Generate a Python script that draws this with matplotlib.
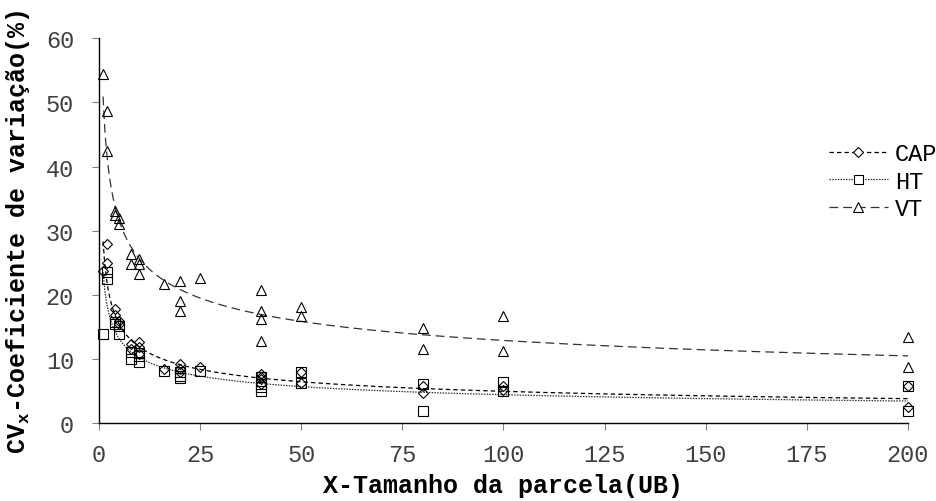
import numpy as np
import matplotlib.pyplot as plt

plt.rcParams['font.family'] = ['Liberation Mono', 'DejaVu Sans Mono']
plt.rcParams['mathtext.fontset'] = 'custom'
plt.rcParams['mathtext.rm'] = 'Liberation Mono'
plt.rcParams['mathtext.bf'] = 'Liberation Mono:bold'

# tamanho da parcela (unidades basicas) e CV(%) de cada forma de parcela
x_ub = [1, 2, 2, 4, 4, 5, 5, 8, 8, 10, 10, 10, 16, 20, 20, 20, 25,
        40, 40, 40, 40, 50, 50, 80, 80, 100, 100, 200, 200]
cv_cap = [23.7, 28.0, 24.9, 17.8, 16.8, 16.0, 15.5, 12.3, 11.5, 12.6, 11.8, 10.8,
          8.5, 9.2, 8.4, 8.0, 8.7, 7.6, 7.2, 6.9, 6.1, 7.9, 6.2, 5.8, 4.7,
          5.8, 5.1, 5.8, 2.5]
cv_ht = [13.9, 23.5, 22.4, 15.4, 15.8, 15.1, 13.9, 11.1, 10.0, 10.4, 9.5, 11.0,
         8.1, 7.9, 7.0, 7.4, 8.1, 7.2, 6.1, 5.0, 5.6, 7.9, 6.2, 6.1, 1.9,
         6.4, 5.0, 5.8, 1.9]
cv_vt = [54.4, 48.6, 42.4, 33.0, 32.5, 32.0, 31.0, 26.3, 24.8, 25.6, 24.8, 23.2,
         21.7, 22.1, 19.0, 17.5, 22.7, 20.7, 17.5, 16.2, 12.8, 18.1, 16.7, 14.8, 11.5,
         16.7, 11.2, 13.4, 8.7]

labels = ['CAP', 'HT', 'VT']
xticks = [0, 25, 50, 75, 100, 125, 150, 175, 200]
yticks = [0, 10, 20, 30, 40, 50, 60]

fig = plt.figure(figsize=(9.37, 5.02), dpi=100)
ax = fig.add_axes([0.1057, 0.155, 0.8633, 0.767])

styles = [
    dict(marker='D', ms=5.4, ls=(0, (3.5, 2.5)), color='black'),
    dict(marker='s', ms=7.2, ls=(0, (1.2, 1.0)), color='#333333'),
    dict(marker='^', ms=7.6, ls=(0, (7, 4)), color='#333333'),
]

x = np.array(x_ub, dtype=float)
xs = np.linspace(1, 200, 500)
for lab, cv, st in zip(labels, [cv_cap, cv_ht, cv_vt], styles):
    cv = np.array(cv)
    # ajuste potencial y = a * x^b (regressao em log-log)
    b, lna = np.polyfit(np.log(x), np.log(cv), 1)
    ax.plot(xs, np.exp(lna) * xs ** b, ls=st['ls'], color=st['color'], lw=0.9)
    ax.plot(x, cv, ls='none', marker=st['marker'], ms=st['ms'],
            mfc='none', mec='black', mew=0.8, clip_on=False)
    # entrada da legenda: linha + marcador
    ax.plot([], [], ls=st['ls'], color=st['color'], lw=0.9, marker=st['marker'],
            ms=st['ms'] * 0.9, mfc='white', mec='black', mew=0.8, label=lab)

ax.set_xlim(0, 200)
ax.set_ylim(0, 60)
ax.set_xticks(xticks)
ax.set_yticks(yticks)
for s in ['top', 'right']:
    ax.spines[s].set_visible(False)
for s in ['left', 'bottom']:
    ax.spines[s].set_linewidth(1.0)
ax.tick_params(axis='both', direction='out', length=5, width=0.8, color='#808080',
               labelsize=17, labelcolor='#404040')
ax.tick_params(axis='y', pad=13)
ax.tick_params(axis='x', pad=9)

ax.set_xlabel('X-Tamanho da parcela(UB)', fontsize=18, fontweight='bold', labelpad=5)
ax.set_ylabel(r'CV$_\mathbf{x}$-Coeficiente de variação(%)', fontsize=18,
              fontweight='bold', labelpad=10)

ax.legend(loc='center left', bbox_to_anchor=(0.872, 0.637),
          bbox_transform=fig.transFigure, frameon=False, fontsize=17,
          handlelength=2.5, handletextpad=0.3, labelspacing=0.2, borderpad=0)

fig.savefig('out.png', dpi=100)
